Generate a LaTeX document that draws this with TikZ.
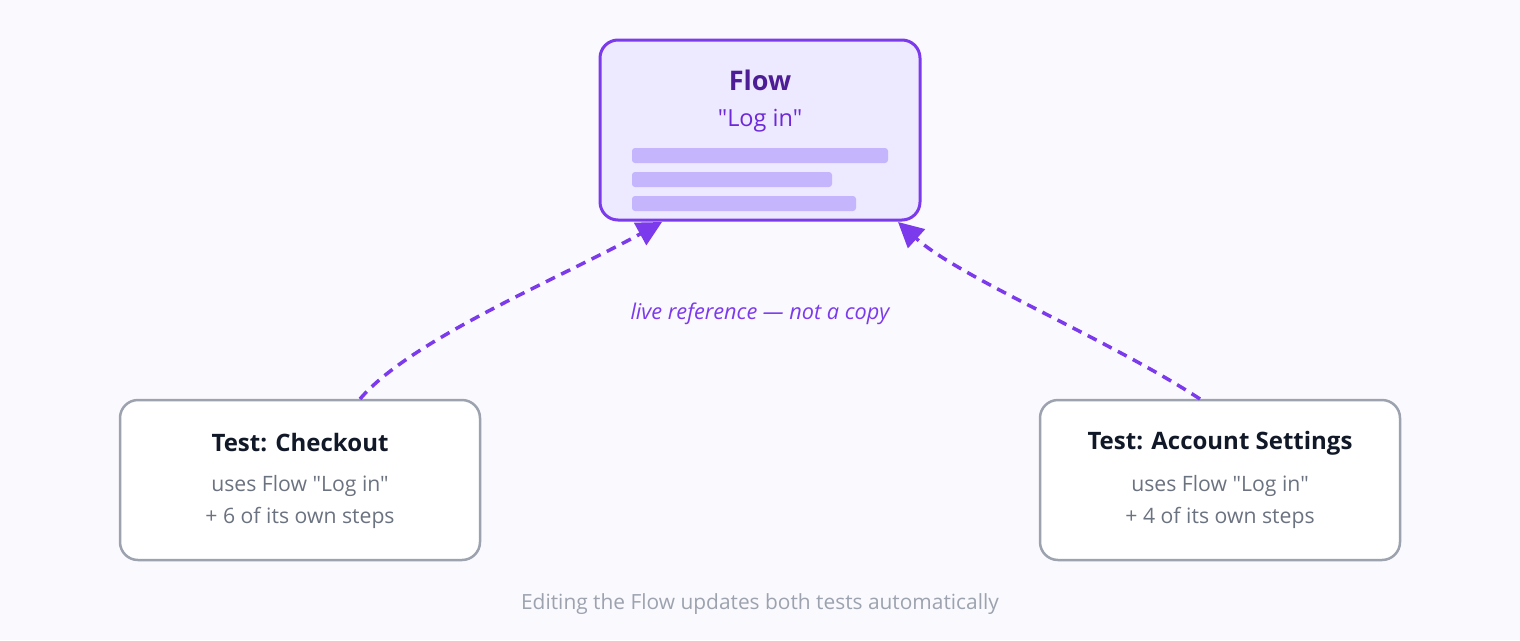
\documentclass[tikz,border=0pt]{standalone}
\usepackage{fontspec}
\setmainfont{Open Sans}[Ligatures=TeXOff]
\usetikzlibrary{arrows.meta}
\definecolor{bgc}{HTML}{FAF9FE}
\definecolor{vio}{HTML}{7C3AED}
\definecolor{viofill}{HTML}{EDE9FE}
\definecolor{viodark}{HTML}{4C1D95}
\definecolor{viomid}{HTML}{6D28D9}
\definecolor{barc}{HTML}{C4B5FD}
\definecolor{grayb}{HTML}{9CA3AF}
\definecolor{ink}{HTML}{111827}
\definecolor{subt}{HTML}{6B7280}
\begin{document}
\begin{tikzpicture}[x=1pt,y=-1pt,
  flowbox/.style={draw=vio,line width=3pt,fill=viofill,rounded corners=18pt},
  testbox/.style={draw=grayb,line width=2.5pt,fill=white,rounded corners=18pt},
  bar/.style={fill=barc,rounded corners=3pt},
  ref/.style={draw=vio,line width=3.5pt,dash pattern=on 10pt off 7pt,-{Triangle[length=25pt,width=25pt]}},
  ttl/.style={font=\bfseries\fontsize{24}{28}\selectfont,text=ink},
  sub/.style={font=\fontsize{21.2}{24}\selectfont,text=subt}]
\fill[bgc] (0,0) rectangle (1520,640);
\useasboundingbox (0,0) rectangle (1520,640);
% flow box
\draw[flowbox] (600,40) rectangle (920,220);
\node[font=\bfseries\fontsize{27}{30}\selectfont,text=viodark] (ft) at (760,80) {Flow};
\node[font=\fontsize{23.5}{26}\selectfont,text=viomid] (fs) at (760,121) {"Log in"};
\fill[bar] (632,148) rectangle (888,163);
\fill[bar] (632,172) rectangle (832,187);
\fill[bar] (632,196) rectangle (856,211);
\coordinate (fl) at (662,222);
\coordinate (fr) at (898,222);
% test boxes
\draw[testbox] (120,400) rectangle (480,560);
\draw[testbox] (1040,400) rectangle (1400,560);
\coordinate (ls) at (360,399);
\coordinate (rs) at (1200,399);
\node[ttl] (t1) at (300,443) {Test: Checkout};
\node[sub] (a1) at (300,486) {uses Flow "Log in"};
\node[sub] (b1) at (300,518) {+ 6 of its own steps};
\node[ttl] (t2) at (1220,443) {Test: Account Settings};
\node[sub] (a2) at (1220,486) {uses Flow "Log in"};
\node[sub] (b2) at (1220,518) {+ 4 of its own steps};
% connectors
\draw[ref] (ls) .. controls (410,340) and (560,278) .. (fl);
\draw[ref] (rs) .. controls (1110,340) and (960,278) .. (fr);
\node[font=\itshape\fontsize{21.7}{24}\selectfont,text=vio] (lab) at (760,314) {live reference — not a copy};
\node[font=\fontsize{20.9}{24}\selectfont,text=grayb] (cap) at (760,604) {Editing the Flow updates both tests automatically};
\end{tikzpicture}
\end{document}
